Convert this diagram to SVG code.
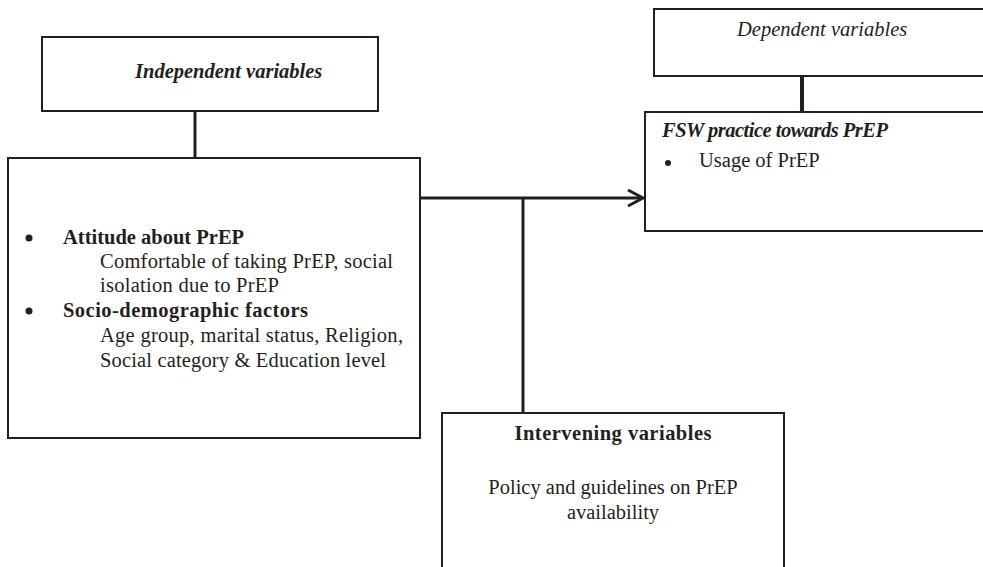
<svg xmlns="http://www.w3.org/2000/svg" width="983" height="567" viewBox="0 0 983 567">
<style>
.box{fill:#fff;stroke:#231f20;stroke-width:2}
.t{font-family:"Liberation Serif","Times New Roman",serif;font-size:20.5px;fill:#231f20}
.b{font-weight:bold}
.i{font-style:italic}
.c{text-anchor:middle}
.con{fill:none;stroke:#231f20;stroke-width:3}
</style>
<rect width="983" height="567" fill="#fff"/>
<g id="connectors">
<line class="con" x1="195" y1="111" x2="195" y2="158"/>
<line class="con" x1="802" y1="76" x2="802" y2="112" style="stroke-width:4"/>
<line class="con" x1="420" y1="198" x2="642" y2="198"/>
<polyline class="con" points="628,190 643,198 628,206"/>
<line class="con" x1="523" y1="198" x2="523" y2="413"/>
</g>
<g id="independent">
<rect class="box" x="42" y="37" width="336" height="74"/>
<text class="t b i" x="135" y="78">Independent variables</text>
</g>
<g id="factors">
<rect class="box" x="8" y="158" width="412" height="280"/>
<circle cx="29" cy="238" r="3.5" fill="#231f20"/>
<text class="t b" x="63" y="244">Attitude about PrEP</text>
<text class="t" x="100" y="268" textLength="293" lengthAdjust="spacing">Comfortable of taking PrEP, social</text>
<text class="t" x="100" y="292" textLength="179" lengthAdjust="spacing">isolation due to PrEP</text>
<circle cx="29" cy="311" r="3.5" fill="#231f20"/>
<text class="t b" x="63" y="317" textLength="245" lengthAdjust="spacing">Socio-demographic factors</text>
<text class="t" x="100" y="342" textLength="303" lengthAdjust="spacing">Age group, marital status, Religion,</text>
<text class="t" x="100" y="367" textLength="286" lengthAdjust="spacing">Social category &amp; Education level</text>
</g>
<g id="dependent">
<rect class="box" x="654" y="9" width="340" height="67"/>
<text class="t i" x="737" y="36">Dependent variables</text>
</g>
<g id="practice">
<rect class="box" x="645" y="112" width="350" height="119"/>
<text class="t b i" x="662" y="137" textLength="226" lengthAdjust="spacing">FSW practice towards PrEP</text>
<circle cx="668" cy="163" r="3" fill="#231f20"/>
<text class="t" x="699" y="167">Usage of PrEP</text>
</g>
<g id="intervening">
<rect class="box" x="442" y="413" width="342" height="200"/>
<text class="t b c" x="613" y="440" textLength="197" lengthAdjust="spacing">Intervening variables</text>
<text class="t c" x="613" y="494">Policy and guidelines on PrEP</text>
<text class="t c" x="613" y="519">availability</text>
</g>
</svg>
